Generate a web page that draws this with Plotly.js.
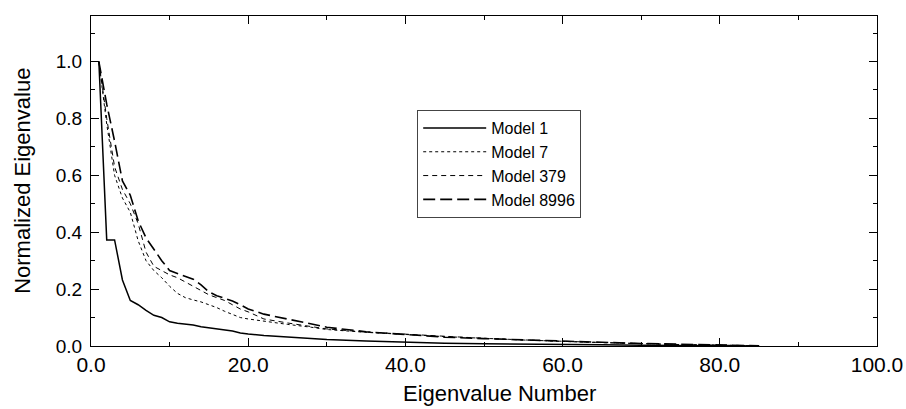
<!DOCTYPE html>
<html>
<head>
<meta charset="utf-8">
<script src="https://cdn.plot.ly/plotly-3.0.1.min.js"></script>
<style>html,body{margin:0;padding:0;background:#fff;}#chart{width:906px;height:409px;}</style>
</head>
<body>
<div id="chart"></div>
<script>
const eigenNumber = [1,2,3,4,5,6,7,8,9,10,11,12,13,14,15,16,17,18,19,20,22,25,28,30,35,40,45,50,55,60,65,70,75,80,85];
const model1 =    [1.0,0.373,0.373,0.232,0.16,0.145,0.125,0.108,0.1,0.085,0.08,0.077,0.074,0.068,0.064,0.062,0.058,0.053,0.046,0.042,0.037,0.031,0.026,0.023,0.018,0.013,0.010,0.008,0.006,0.005,0.004,0.003,0.002,0.001,0.0];
const model7 =    [1.0,0.78,0.60,0.52,0.47,0.37,0.30,0.265,0.24,0.21,0.185,0.17,0.162,0.155,0.145,0.135,0.122,0.11,0.10,0.095,0.087,0.076,0.066,0.058,0.048,0.040,0.033,0.027,0.021,0.016,0.012,0.008,0.005,0.003,0.001];
const model379 =  [1.0,0.80,0.63,0.55,0.50,0.43,0.33,0.28,0.265,0.25,0.24,0.225,0.21,0.195,0.18,0.17,0.16,0.145,0.13,0.12,0.095,0.081,0.068,0.060,0.049,0.041,0.034,0.027,0.021,0.016,0.012,0.008,0.005,0.003,0.001];
const model8996 = [1.0,0.85,0.72,0.58,0.53,0.44,0.38,0.34,0.30,0.265,0.255,0.245,0.235,0.215,0.19,0.177,0.168,0.158,0.145,0.13,0.112,0.095,0.080,0.066,0.050,0.040,0.031,0.026,0.021,0.017,0.013,0.009,0.006,0.003,0.001];
const seriesNames = ['Model 1','Model 7','Model 379','Model 8996'];
const xTickVals = [0,20,40,60,80,100];
const xTickText = ['0.0','20.0','40.0','60.0','80.0','100.0'];
const yTickVals = [0,0.2,0.4,0.6,0.8,1.0];
const yTickText = ['0.0','0.2','0.4','0.6','0.8','1.0'];
const xTitle = 'Eigenvalue Number';
const yTitle = 'Normalized Eigenvalue';

const styles = [
  {color:'#000', width:1.5, dash:'solid'},
  {color:'#000', width:1, dash:'dot'},
  {color:'#000', width:1, dash:'5px,4px'},
  {color:'#000', width:1.6, dash:'12px,5px'}
];
const ys = [model1, model7, model379, model8996];
const traces = ys.map((y,i)=>({
  x: eigenNumber, y: y, name: seriesNames[i], type:'scatter', mode:'lines',
  line: styles[i]
}));

const fam = '"Liberation Sans", Arial, sans-serif';
const titleFont = {family:fam, size:22, color:'#000'};
const layout = {
  width:906, height:409,
  margin:{l:91, r:29, t:16, b:63},
  paper_bgcolor:'#fff', plot_bgcolor:'#fff',
  font: {family:fam, size:17, color:'#000'},
  showlegend:true,
  legend:{x:0.415, y:0.715, xanchor:'left', yanchor:'top', bordercolor:'#444', borderwidth:1,
    bgcolor:'#fff', font:{family:fam, size:16, color:'#000'}, itemwidth:63, tracegroupgap:0},
  xaxis:{range:[0,100], tickvals:xTickVals, ticktext:xTickText, ticks:'inside', ticklen:8, tickwidth:1,
    tickcolor:'#000', showline:true, linecolor:'#000', linewidth:1, mirror:'ticks', showgrid:false, zeroline:false,
    minor:{dtick:10, tick0:0, ticks:'inside', ticklen:4, tickcolor:'#000'},
    tickfont:{family:fam, size:21, color:'#000'}},
  yaxis:{range:[0,1.16], tickvals:yTickVals, ticktext:yTickText, ticks:'inside', ticklen:8, tickwidth:1,
    tickcolor:'#000', showline:true, linecolor:'#000', linewidth:1, mirror:'ticks', showgrid:false, zeroline:false,
    minor:{dtick:0.1, tick0:0, ticks:'inside', ticklen:4, tickcolor:'#000'},
    ticklabelstandoff:4,
    tickfont:{family:fam, size:19, color:'#000'}},
  annotations:[
    {text:xTitle, xref:'paper', yref:'paper', x:0.52, y:-0.145, xanchor:'center', yanchor:'middle', showarrow:false, font:titleFont},
    {text:yTitle, xref:'paper', yref:'paper', x:-0.088, y:0.5, xanchor:'center', yanchor:'middle', textangle:-90, showarrow:false, font:titleFont}
  ]
};
Plotly.newPlot('chart', traces, layout, {displayModeBar:false, staticPlot:true});
</script>
</body>
</html>
